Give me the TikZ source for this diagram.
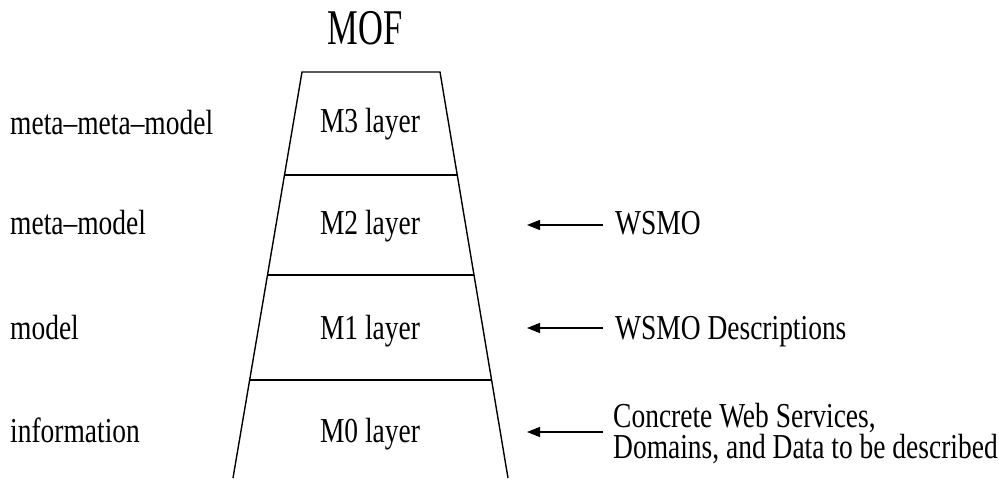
\documentclass[tikz,border=0pt]{standalone}
\usepackage{fontspec}
\setmainfont{Liberation Serif}
\usepackage{graphicx}
\usetikzlibrary{arrows.meta,calc}
\newcommand\sqz[1]{\scalebox{0.785}[1]{#1}}
\newcommand\sqzb[1]{\scalebox{0.69}[1]{#1}}
\begin{document}
\begin{tikzpicture}[x=1pt,y=-1pt,
  lbl/.style={inner sep=0pt,font=\fontsize{35}{28}\selectfont},
  big/.style={inner sep=0pt,font=\fontsize{50}{54}\selectfont},
  edge/.style={line width=1.4pt},
  arr/.style={line width=1.3pt,-{Triangle[length=13pt,width=10pt]}}]
\useasboundingbox (0,0) rectangle (999,481);
% trapezoid
\coordinate (TL) at (302,72);
\coordinate (TR) at (440,72);
\coordinate (BL) at (233,478);
\coordinate (BR) at (508,478);
\draw[edge] (BL) -- (TL) -- (TR) -- (BR);
\foreach \yy in {175,275,380}{
  \draw[edge] ($(TL)!{(\yy-72)/406}!(BL)$) -- ($(TR)!{(\yy-72)/406}!(BR)$);
}
% title
\node[big,anchor=base] (mof) at (365,45) {\sqzb{MOF}};
% left labels
\node[lbl,anchor=base west] (l3) at (10,135) {\sqz{meta–meta–model}};
\node[lbl,anchor=base west] (l2) at (10,235) {\sqz{meta–model}};
\node[lbl,anchor=base west] (l1) at (10,339) {\sqz{model}};
\node[lbl,anchor=base west] (l0) at (10,442) {\sqz{information}};
% layers
\node[lbl,anchor=base] (m3) at (370,133) {\sqz{M3 layer}};
\node[lbl,anchor=base] (m2) at (370,235) {\sqz{M2 layer}};
\node[lbl,anchor=base] (m1) at (370,339) {\sqz{M1 layer}};
\node[lbl,anchor=base] (m0) at (370,442) {\sqz{M0 layer}};
% right labels
\node[lbl,anchor=base west] (r2) at (615,235) {\sqz{WSMO}};
\node[lbl,anchor=base west] (r1) at (615,339) {\sqz{WSMO Descriptions}};
\node[lbl,anchor=base west] (r0) at (613,427) {\sqz{\renewcommand\arraystretch{0.87}\begin{tabular}[t]{@{}l@{}}Concrete Web Services,\\Domains, and Data to be described\end{tabular}}};
% arrows
\coordinate (a2) at (527,225);
\coordinate (a1) at (527,328);
\coordinate (a0) at (527,432);
\draw[arr] ($(r2.base west)+(-12,-10)$) -- (a2);
\draw[arr] ($(r1.base west)+(-12,-11)$) -- (a1);
\draw[arr] ($(r0.base west)+(-10,5)$) -- (a0);
\end{tikzpicture}
\end{document}
